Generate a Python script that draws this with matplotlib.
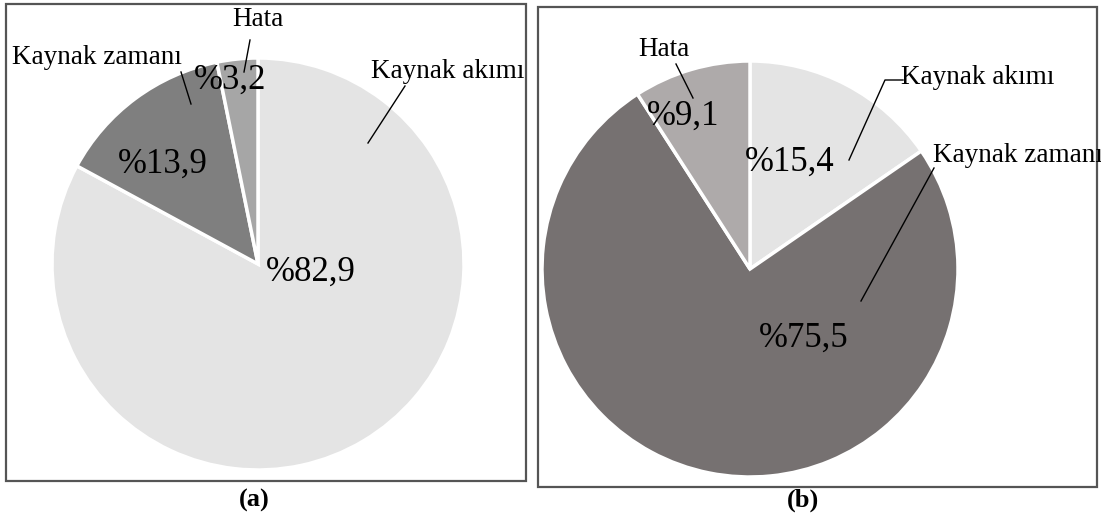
import matplotlib
matplotlib.use("Agg")
import matplotlib.pyplot as plt
from matplotlib.patches import Rectangle
from matplotlib.lines import Line2D

W, H = 1101, 515

categories = ["Kaynak akımı", "Kaynak zamanı", "Hata"]
values_a = [82.9, 13.9, 3.2]
values_b = [15.4, 75.5, 9.1]
labels_a = ["%82,9", "%13,9", "%3,2"]
labels_b = ["%15,4", "%75,5", "%9,1"]
colors_a = ["#e4e4e4", "#7f7f7f", "#a6a6a6"]
colors_b = ["#e4e4e4", "#767171", "#aeaaaa"]
panel_titles = ["(a)", "(b)"]

plt.rcParams['font.family'] = ['Liberation Serif', 'DejaVu Serif']

fig = plt.figure(figsize=(W / 100, H / 100), dpi=100)


def px(x, y):
    return (x / W, 1 - y / H)


def make_axes(cx, cy, r):
    ax = fig.add_axes([(cx - r) / W, (H - cy - r) / H, 2 * r / W, 2 * r / H])
    return ax


def finish(ax):
    ax.set_xlim(-1, 1)
    ax.set_ylim(-1, 1)
    ax.set_aspect('equal')
    ax.axis('off')


# panel boxes
for (x0, y0, x1, y1) in [(6, 4, 526, 481), (538, 7, 1097, 487)]:
    fig.patches.append(Rectangle(px(x0, y1), (x1 - x0) / W, (y1 - y0) / H,
                                 transform=fig.transFigure, fill=False,
                                 edgecolor="#555555", linewidth=1.6))

ax1 = make_axes(258, 264, 206)
ax1.pie(values_a, colors=colors_a, startangle=90, counterclock=False, radius=1,
        wedgeprops=dict(edgecolor="white", linewidth=2.5))
finish(ax1)

ax2 = make_axes(750, 269, 208)
ax2.pie(values_b, colors=colors_b, startangle=90, counterclock=False, radius=1,
        wedgeprops=dict(edgecolor="white", linewidth=2.5))
finish(ax2)

pct_fs = 25
cat_fs = 19.5

# percentage labels (pixel positions)
pct_pos_a = [(311, 272), (163, 164), (230, 80)]
pct_pos_b = [(790, 162), (804, 338), (683, 116)]
for lab, (x, y) in zip(labels_a, pct_pos_a):
    fig.text(*px(x, y), lab, fontsize=pct_fs, ha='center', va='center')
for lab, (x, y) in zip(labels_b, pct_pos_b):
    fig.text(*px(x, y), lab, fontsize=pct_fs, ha='center', va='center')

# category labels
cat_pos_a = [(448, 72), (97, 57), (258, 19)]
cat_pos_b = [(978, 78), (1018, 156), (664, 50)]
for lab, (x, y) in zip(categories, cat_pos_a):
    fig.text(*px(x, y), lab, fontsize=cat_fs, ha='center', va='center')
for lab, (x, y) in zip(categories, cat_pos_b):
    fig.text(*px(x, y), lab, fontsize=cat_fs, ha='center', va='center')

# leader lines
leaders = [
    [(405, 86), (368, 143)],
    [(181, 72), (191, 104)],
    [(250, 40), (244, 72)],
    [(903, 80), (885, 80), (849, 160)],
    [(934, 168), (861, 301)],
    [(676, 64), (693, 98)],
]
for pts in leaders:
    xs = [px(x, y)[0] for x, y in pts]
    ys = [px(x, y)[1] for x, y in pts]
    fig.lines.append(Line2D(xs, ys, transform=fig.transFigure, color="black", linewidth=1.0))

fig.text(*px(254, 500), panel_titles[0], fontsize=19, fontweight='bold', ha='center', va='center')
fig.text(*px(803, 500), panel_titles[1], fontsize=19, fontweight='bold', ha='center', va='center')

fig.savefig("out.png", dpi=100)
